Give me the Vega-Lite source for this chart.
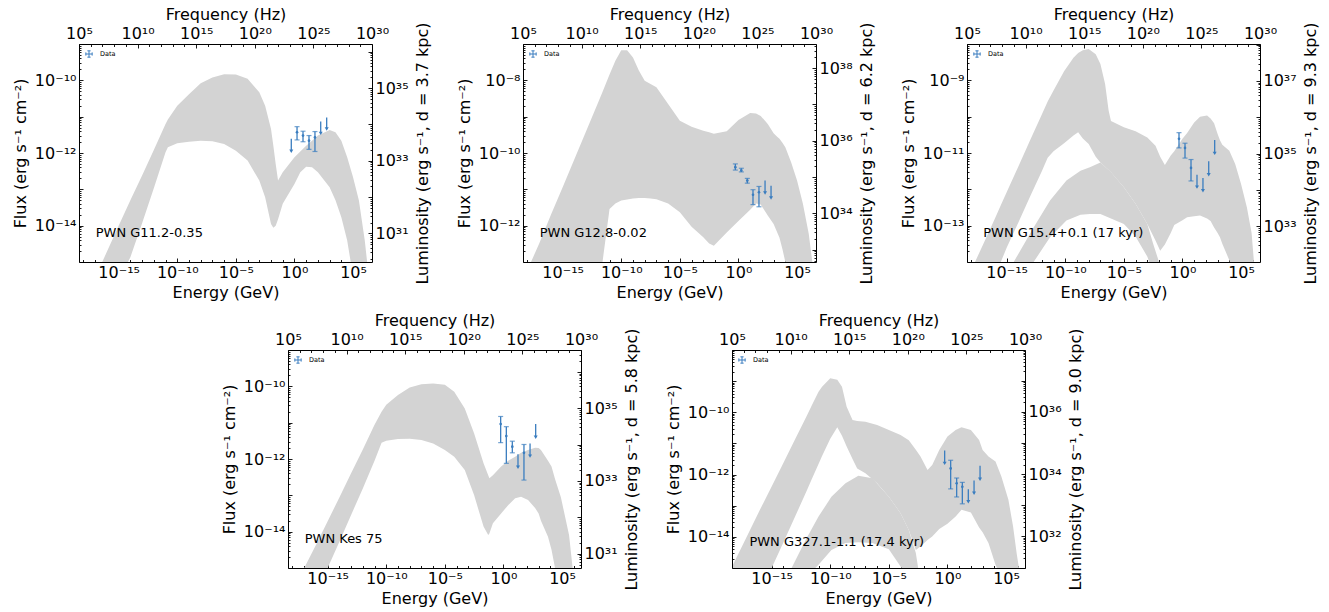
{
"$schema": "https://vega.github.io/schema/vega-lite/v6.json",
"padding": {"left": 12, "top": 6, "right": 2, "bottom": 2},
"config": {
  "font": "DejaVu Sans",
  "view": {"stroke": null},
  "axis": {"labelFont": "DejaVu Sans", "labelFontSize": 16, "titleFont": "DejaVu Sans", "titleFontSize": 16, "titleFontWeight": "normal", "labelColor": "black", "titleColor": "black", "domainColor": "black", "domainWidth": 1, "tickColor": "black", "tickSize": -4, "tickWidth": 0.9, "grid": false, "labelFlush": false, "labelOverlap": false, "labelBound": false}
},
"datasets": {
  "band": [
    {"p":1,"part":"a","E":3.98e-17,"hi":1e-15,"lo":3.16e-16},
    {"p":1,"part":"a","E":1e-15,"hi":1e-14,"lo":3.16e-16},
    {"p":1,"part":"a","E":1e-14,"hi":5.01e-14,"lo":1.35e-15},
    {"p":1,"part":"a","E":1e-13,"hi":2.4e-13,"lo":1.17e-14},
    {"p":1,"part":"a","E":1e-12,"hi":1.2e-12,"lo":1.07e-13},
    {"p":1,"part":"a","E":1e-11,"hi":6.31e-12,"lo":1.05e-12},
    {"p":1,"part":"a","E":1.585e-11,"hi":8.32e-12,"lo":1.45e-12},
    {"p":1,"part":"a","E":1e-10,"hi":2.0e-11,"lo":1.86e-12},
    {"p":1,"part":"a","E":1e-9,"hi":4.17e-11,"lo":2.04e-12},
    {"p":1,"part":"a","E":1e-8,"hi":8.32e-11,"lo":2.19e-12},
    {"p":1,"part":"a","E":1e-7,"hi":1.2e-10,"lo":2.09e-12},
    {"p":1,"part":"a","E":1e-6,"hi":1.48e-10,"lo":1.78e-12},
    {"p":1,"part":"a","E":1e-5,"hi":1.45e-10,"lo":1.15e-12},
    {"p":1,"part":"a","E":1e-4,"hi":1.1e-10,"lo":6.17e-13},
    {"p":1,"part":"a","E":1e-3,"hi":4.68e-11,"lo":1.74e-13},
    {"p":1,"part":"a","E":3.16e-3,"hi":2.0e-11,"lo":6.03e-14},
    {"p":1,"part":"a","E":0.01,"hi":4.57e-12,"lo":1.12e-14},
    {"p":1,"part":"a","E":0.0158,"hi":1.58e-12,"lo":8.71e-15},
    {"p":1,"part":"a","E":0.0251,"hi":5.01e-13,"lo":1e-14},
    {"p":1,"part":"a","E":0.0398,"hi":1.74e-13,"lo":1.51e-14},
    {"p":1,"part":"a","E":0.1,"hi":2.95e-13,"lo":3.98e-14},
    {"p":1,"part":"a","E":1,"hi":7.59e-13,"lo":1.41e-13},
    {"p":1,"part":"a","E":3.16,"hi":1.1e-12,"lo":2.95e-13},
    {"p":1,"part":"a","E":10,"hi":1.58e-12,"lo":4.17e-13},
    {"p":1,"part":"a","E":31.6,"hi":2.19e-12,"lo":4.07e-13},
    {"p":1,"part":"a","E":100,"hi":3.02e-12,"lo":2.95e-13},
    {"p":1,"part":"a","E":1000,"hi":4.27e-12,"lo":1.15e-13},
    {"p":1,"part":"a","E":3162,"hi":3.72e-12,"lo":5.01e-14},
    {"p":1,"part":"a","E":1e4,"hi":2.19e-12,"lo":1.7e-14},
    {"p":1,"part":"a","E":31623,"hi":7.59e-13,"lo":3.89e-15},
    {"p":1,"part":"a","E":63096,"hi":3.55e-13,"lo":1e-15},
    {"p":1,"part":"a","E":1e5,"hi":2.14e-13,"lo":3.16e-16},
    {"p":1,"part":"a","E":316228,"hi":4.9e-14,"lo":3.16e-16},
    {"p":1,"part":"a","E":1e6,"hi":3.89e-15,"lo":3.16e-16},
    {"p":1,"part":"a","E":1.585e6,"hi":1e-15,"lo":3.16e-16},

    {"p":2,"part":"a","E":2.0e-18,"hi":1e-13,"lo":3.16e-14},
    {"p":2,"part":"a","E":1e-17,"hi":3.24e-13,"lo":3.16e-14},
    {"p":2,"part":"a","E":1e-16,"hi":2.0e-12,"lo":3.16e-14},
    {"p":2,"part":"a","E":1e-15,"hi":1.15e-11,"lo":3.16e-14},
    {"p":2,"part":"a","E":1e-14,"hi":6.76e-11,"lo":3.16e-14},
    {"p":2,"part":"a","E":1e-13,"hi":3.98e-10,"lo":3.16e-14},
    {"p":2,"part":"a","E":1e-12,"hi":2.34e-9,"lo":3.16e-14},
    {"p":2,"part":"a","E":2.51e-12,"hi":4.79e-9,"lo":1e-13},
    {"p":2,"part":"a","E":1e-11,"hi":1.45e-8,"lo":2.88e-12},
    {"p":2,"part":"a","E":3.16e-11,"hi":3.47e-8,"lo":4.07e-12},
    {"p":2,"part":"a","E":1e-10,"hi":6.76e-8,"lo":4.9e-12},
    {"p":2,"part":"a","E":3.16e-10,"hi":6.76e-8,"lo":5.25e-12},
    {"p":2,"part":"a","E":1e-9,"hi":4.27e-8,"lo":5.62e-12},
    {"p":2,"part":"a","E":3.16e-9,"hi":1.86e-8,"lo":5.75e-12},
    {"p":2,"part":"a","E":1e-8,"hi":9.77e-9,"lo":5.75e-12},
    {"p":2,"part":"a","E":3.16e-8,"hi":7.94e-9,"lo":5.62e-12},
    {"p":2,"part":"a","E":1e-7,"hi":6.46e-9,"lo":5.37e-12},
    {"p":2,"part":"a","E":1e-6,"hi":2.24e-9,"lo":4.07e-12},
    {"p":2,"part":"a","E":1e-5,"hi":7.76e-10,"lo":2.34e-12},
    {"p":2,"part":"a","E":1e-4,"hi":5.25e-10,"lo":9.33e-13},
    {"p":2,"part":"a","E":1e-3,"hi":4.07e-10,"lo":4.79e-13},
    {"p":2,"part":"a","E":3.16e-3,"hi":3.72e-10,"lo":3.24e-13},
    {"p":2,"part":"a","E":7.94e-3,"hi":3.39e-10,"lo":2.82e-13},
    {"p":2,"part":"a","E":0.1,"hi":3.98e-10,"lo":6.46e-13},
    {"p":2,"part":"a","E":1,"hi":8.13e-10,"lo":1.35e-12},
    {"p":2,"part":"a","E":10,"hi":1.26e-9,"lo":2.75e-12},
    {"p":2,"part":"a","E":31.6,"hi":1.23e-9,"lo":4.07e-12},
    {"p":2,"part":"a","E":79.4,"hi":1.05e-9,"lo":3.8e-12},
    {"p":2,"part":"a","E":316,"hi":6.31e-10,"lo":1.91e-12},
    {"p":2,"part":"a","E":1000,"hi":3.47e-10,"lo":1.12e-12},
    {"p":2,"part":"a","E":1995,"hi":2.82e-10,"lo":6.61e-13},
    {"p":2,"part":"a","E":3162,"hi":2.45e-10,"lo":4.68e-13},
    {"p":2,"part":"a","E":5623,"hi":1.91e-10,"lo":2.29e-13},
    {"p":2,"part":"a","E":1e4,"hi":1.45e-10,"lo":1e-13},
    {"p":2,"part":"a","E":31623,"hi":5.5e-11,"lo":3.16e-14},
    {"p":2,"part":"a","E":1e5,"hi":1.74e-11,"lo":3.16e-14},
    {"p":2,"part":"a","E":316228,"hi":3.98e-12,"lo":3.16e-14},
    {"p":2,"part":"a","E":1e6,"hi":5.89e-13,"lo":3.16e-14},
    {"p":2,"part":"a","E":2.0e6,"hi":1e-13,"lo":3.16e-14},

    {"p":3,"part":"a","E":2.0e-18,"hi":1e-14,"lo":3.16e-15},
    {"p":3,"part":"a","E":1e-17,"hi":3.09e-14,"lo":3.16e-15},
    {"p":3,"part":"a","E":1e-16,"hi":1.58e-13,"lo":3.16e-15},
    {"p":3,"part":"a","E":3.16e-16,"hi":3.63e-13,"lo":1e-14},
    {"p":3,"part":"a","E":1e-15,"hi":8.32e-13,"lo":2.45e-14},
    {"p":3,"part":"a","E":1e-14,"hi":4.27e-12,"lo":1.23e-13},
    {"p":3,"part":"a","E":1e-13,"hi":2.24e-11,"lo":6.31e-13},
    {"p":3,"part":"a","E":1e-12,"hi":1.15e-10,"lo":3.16e-12},
    {"p":3,"part":"a","E":3.16e-12,"hi":2.63e-10,"lo":7.41e-12},
    {"p":3,"part":"a","E":1e-11,"hi":5.25e-10,"lo":1.12e-11},
    {"p":3,"part":"a","E":7.94e-11,"hi":1.78e-9,"lo":1.86e-11},
    {"p":3,"part":"a","E":5.01e-10,"hi":4.17e-9,"lo":3.02e-11},
    {"p":3,"part":"a","E":1.26e-9,"hi":5.62e-9,"lo":3.72e-11},
    {"p":3,"part":"a","E":3.16e-9,"hi":6.76e-9,"lo":2.51e-11},
    {"p":3,"part":"a","E":1e-8,"hi":7.24e-9,"lo":1.78e-11},
    {"p":3,"part":"a","E":3.98e-8,"hi":5.25e-9,"lo":7.94e-12},
    {"p":3,"part":"a","E":1e-7,"hi":2.82e-9,"lo":5.5e-12},
    {"p":3,"part":"a","E":2.51e-7,"hi":7.94e-10,"lo":4.17e-12},
    {"p":3,"part":"a","E":5.01e-7,"hi":1.48e-10,"lo":3.39e-12},
    {"p":3,"part":"a","E":7.94e-7,"hi":7.59e-11,"lo":2.95e-12},
    {"p":3,"part":"a","E":1e-5,"hi":5.13e-11,"lo":1.15e-12},
    {"p":3,"part":"a","E":1e-4,"hi":3.98e-11,"lo":3.98e-13},
    {"p":3,"part":"a","E":1e-3,"hi":2.69e-11,"lo":1.12e-13},
    {"p":3,"part":"a","E":5.01e-3,"hi":1.58e-11,"lo":3.89e-14},
    {"p":3,"part":"a","E":0.0126,"hi":7.94e-12,"lo":2.04e-14},
    {"p":3,"part":"a","E":0.0316,"hi":4.68e-12,"lo":3.02e-14},
    {"p":3,"part":"a","E":0.1,"hi":8.51e-12,"lo":6.31e-14},
    {"p":3,"part":"a","E":0.2,"hi":1.12e-11,"lo":1.05e-13},
    {"p":3,"part":"a","E":1,"hi":2.45e-11,"lo":1.41e-13},
    {"p":3,"part":"a","E":2.51,"hi":3.55e-11,"lo":1.7e-13},
    {"p":3,"part":"a","E":10,"hi":6.92e-11,"lo":1.82e-13},
    {"p":3,"part":"a","E":31.6,"hi":1e-10,"lo":1.91e-13},
    {"p":3,"part":"a","E":126,"hi":1.07e-10,"lo":1.58e-13},
    {"p":3,"part":"a","E":251,"hi":8.91e-11,"lo":1.35e-13},
    {"p":3,"part":"a","E":501,"hi":6.61e-11,"lo":8.91e-14},
    {"p":3,"part":"a","E":1000,"hi":3.31e-11,"lo":6.31e-14},
    {"p":3,"part":"a","E":1585,"hi":2.24e-11,"lo":4.79e-14},
    {"p":3,"part":"a","E":2512,"hi":1.7e-11,"lo":3.16e-14},
    {"p":3,"part":"a","E":1e4,"hi":1.15e-11,"lo":1.12e-14},
    {"p":3,"part":"a","E":31623,"hi":5.01e-12,"lo":3.16e-15},
    {"p":3,"part":"a","E":1e5,"hi":1.41e-12,"lo":3.16e-15},
    {"p":3,"part":"a","E":316228,"hi":3.16e-13,"lo":3.16e-15},
    {"p":3,"part":"a","E":7.94e5,"hi":6.31e-14,"lo":3.16e-15},
    {"p":3,"part":"a","E":1.26e6,"hi":1e-14,"lo":3.16e-15},
    {"p":3,"part":"b","E":3.98e-15,"hi":1e-14,"lo":7.94e-15},
    {"p":3,"part":"b","E":3.16e-14,"hi":3.16e-14,"lo":5.01e-15},
    {"p":3,"part":"b","E":2.0e-13,"hi":8.91e-14,"lo":1e-14},
    {"p":3,"part":"b","E":5.01e-12,"hi":4.9e-13,"lo":4.79e-14},
    {"p":3,"part":"b","E":1.26e-10,"hi":1.74e-12,"lo":1.38e-13},
    {"p":3,"part":"b","E":2.0e-9,"hi":3.24e-12,"lo":2.0e-13},
    {"p":3,"part":"b","E":1.26e-8,"hi":4.07e-12,"lo":2.09e-13},
    {"p":3,"part":"b","E":1e-7,"hi":5.5e-12,"lo":2.09e-13},
    {"p":3,"part":"b","E":7.94e-7,"hi":3.0e-12,"lo":1.58e-13},
    {"p":3,"part":"b","E":1e-5,"hi":1.15e-12,"lo":1.12e-13},
    {"p":3,"part":"b","E":1e-4,"hi":3.98e-13,"lo":5.01e-14},
    {"p":3,"part":"b","E":1e-3,"hi":1.12e-13,"lo":1.41e-14},
    {"p":3,"part":"b","E":3.16e-3,"hi":3.16e-14,"lo":5.01e-15},
    {"p":3,"part":"b","E":0.01,"hi":1e-14,"lo":5.01e-15},

    {"p":4,"part":"a","E":1e-17,"hi":1e-15,"lo":3.16e-16},
    {"p":4,"part":"a","E":1e-16,"hi":4.27e-15,"lo":3.16e-16},
    {"p":4,"part":"a","E":1e-15,"hi":1.95e-14,"lo":1e-15},
    {"p":4,"part":"a","E":1e-14,"hi":8.71e-14,"lo":5.25e-15},
    {"p":4,"part":"a","E":1e-13,"hi":4.07e-13,"lo":2.88e-14},
    {"p":4,"part":"a","E":1e-12,"hi":1.82e-12,"lo":1.55e-13},
    {"p":4,"part":"a","E":1e-11,"hi":8.71e-12,"lo":8.91e-13},
    {"p":4,"part":"a","E":3.98e-11,"hi":2.0e-11,"lo":2.82e-12},
    {"p":4,"part":"a","E":1e-10,"hi":3.09e-11,"lo":3.16e-12},
    {"p":4,"part":"a","E":1e-9,"hi":5.75e-11,"lo":3.55e-12},
    {"p":4,"part":"a","E":1e-8,"hi":9.33e-11,"lo":3.63e-12},
    {"p":4,"part":"a","E":1e-7,"hi":1.15e-10,"lo":3.31e-12},
    {"p":4,"part":"a","E":1e-6,"hi":1.2e-10,"lo":2.69e-12},
    {"p":4,"part":"a","E":1e-5,"hi":1.1e-10,"lo":1.78e-12},
    {"p":4,"part":"a","E":6.31e-5,"hi":7.08e-11,"lo":1.15e-12},
    {"p":4,"part":"a","E":5.01e-4,"hi":2.45e-11,"lo":5.01e-13},
    {"p":4,"part":"a","E":3.16e-3,"hi":5.01e-12,"lo":1e-13},
    {"p":4,"part":"a","E":0.02,"hi":7.59e-13,"lo":1.38e-14},
    {"p":4,"part":"a","E":0.0501,"hi":3.55e-13,"lo":8.13e-15},
    {"p":4,"part":"a","E":0.0631,"hi":2.95e-13,"lo":8.91e-15},
    {"p":4,"part":"a","E":0.126,"hi":3.55e-13,"lo":1.7e-14},
    {"p":4,"part":"a","E":0.631,"hi":6.17e-13,"lo":3.16e-14},
    {"p":4,"part":"a","E":2.51,"hi":8.91e-13,"lo":5.37e-14},
    {"p":4,"part":"a","E":10,"hi":1.15e-12,"lo":8.32e-14},
    {"p":4,"part":"a","E":31.6,"hi":1.48e-12,"lo":9.12e-14},
    {"p":4,"part":"a","E":126,"hi":1.78e-12,"lo":7.41e-14},
    {"p":4,"part":"a","E":501,"hi":2.04e-12,"lo":4.47e-14},
    {"p":4,"part":"a","E":1000,"hi":2.0e-12,"lo":3.16e-14},
    {"p":4,"part":"a","E":1585,"hi":1.78e-12,"lo":2.0e-14},
    {"p":4,"part":"a","E":6310,"hi":8.91e-13,"lo":7.24e-15},
    {"p":4,"part":"a","E":12589,"hi":6.17e-13,"lo":3.16e-15},
    {"p":4,"part":"a","E":25119,"hi":2.82e-13,"lo":1e-15},
    {"p":4,"part":"a","E":79433,"hi":8.91e-14,"lo":3.16e-16},
    {"p":4,"part":"a","E":398107,"hi":7.94e-15,"lo":3.16e-16},
    {"p":4,"part":"a","E":794328,"hi":1e-15,"lo":3.16e-16},

    {"p":5,"part":"a","E":5.01e-19,"hi":1.26e-15,"lo":5.01e-16},
    {"p":5,"part":"a","E":1e-17,"hi":1.26e-14,"lo":5.01e-16},
    {"p":5,"part":"a","E":1e-16,"hi":7.41e-14,"lo":5.01e-16},
    {"p":5,"part":"a","E":1e-15,"hi":4.17e-13,"lo":1e-15},
    {"p":5,"part":"a","E":1e-14,"hi":2.34e-12,"lo":6.61e-15},
    {"p":5,"part":"a","E":1e-13,"hi":1.35e-11,"lo":4.47e-14},
    {"p":5,"part":"a","E":1e-12,"hi":7.76e-11,"lo":3.09e-13},
    {"p":5,"part":"a","E":2.51e-12,"hi":1.58e-10,"lo":6.76e-13},
    {"p":5,"part":"a","E":1e-11,"hi":4.57e-10,"lo":2.19e-12},
    {"p":5,"part":"a","E":2.0e-11,"hi":6.61e-10,"lo":3.98e-12},
    {"p":5,"part":"a","E":1e-10,"hi":1.23e-9,"lo":1.41e-11},
    {"p":5,"part":"a","E":3.98e-10,"hi":1.1e-9,"lo":3.31e-11},
    {"p":5,"part":"a","E":1e-9,"hi":6.61e-10,"lo":1.78e-11},
    {"p":5,"part":"a","E":2.51e-9,"hi":1.51e-10,"lo":7.94e-12},
    {"p":5,"part":"a","E":7.94e-9,"hi":5.62e-11,"lo":3.16e-12},
    {"p":5,"part":"a","E":2.0e-8,"hi":5.25e-11,"lo":1.58e-12},
    {"p":5,"part":"a","E":1e-7,"hi":5.01e-11,"lo":1.1e-12},
    {"p":5,"part":"a","E":1e-6,"hi":3.89e-11,"lo":5.25e-13},
    {"p":5,"part":"a","E":1e-5,"hi":2.69e-11,"lo":1.95e-13},
    {"p":5,"part":"a","E":1e-4,"hi":1.86e-11,"lo":5.75e-14},
    {"p":5,"part":"a","E":5.01e-4,"hi":1.26e-11,"lo":1.66e-14},
    {"p":5,"part":"a","E":2.0e-3,"hi":6.31e-12,"lo":3.8e-15},
    {"p":5,"part":"a","E":5.01e-3,"hi":3.8e-12,"lo":4.9e-15},
    {"p":5,"part":"a","E":0.02,"hi":1.41e-12,"lo":7.94e-15},
    {"p":5,"part":"a","E":0.0501,"hi":2.04e-12,"lo":1.02e-14},
    {"p":5,"part":"a","E":0.2,"hi":6.17e-12,"lo":1.78e-14},
    {"p":5,"part":"a","E":1,"hi":1.66e-11,"lo":2.63e-14},
    {"p":5,"part":"a","E":5.01,"hi":2.69e-11,"lo":4.47e-14},
    {"p":5,"part":"a","E":15.8,"hi":3.31e-11,"lo":7.41e-14},
    {"p":5,"part":"a","E":100,"hi":2.69e-11,"lo":6.03e-14},
    {"p":5,"part":"a","E":501,"hi":1.29e-11,"lo":2.0e-14},
    {"p":5,"part":"a","E":1000,"hi":6.17e-12,"lo":1.41e-14},
    {"p":5,"part":"a","E":3162,"hi":3.8e-12,"lo":6.31e-15},
    {"p":5,"part":"a","E":12589,"hi":2.63e-12,"lo":1.26e-15},
    {"p":5,"part":"a","E":39811,"hi":8.71e-13,"lo":5.01e-16},
    {"p":5,"part":"a","E":158489,"hi":1.55e-13,"lo":5.01e-16},
    {"p":5,"part":"a","E":398107,"hi":2.14e-14,"lo":5.01e-16},
    {"p":5,"part":"a","E":794328,"hi":3.02e-15,"lo":5.01e-16},
    {"p":5,"part":"a","E":1.26e6,"hi":1e-15,"lo":5.01e-16},
    {"p":5,"part":"b","E":5.01e-14,"hi":1e-15,"lo":7.94e-16},
    {"p":5,"part":"b","E":7.94e-13,"hi":7.94e-15,"lo":5.01e-16},
    {"p":5,"part":"b","E":1e-11,"hi":4.47e-14,"lo":1.26e-15},
    {"p":5,"part":"b","E":1.26e-10,"hi":1.95e-13,"lo":3.8e-15},
    {"p":5,"part":"b","E":2.0e-9,"hi":5.25e-13,"lo":6.31e-15},
    {"p":5,"part":"b","E":2.51e-8,"hi":9.12e-13,"lo":6.76e-15},
    {"p":5,"part":"b","E":3.98e-7,"hi":7.59e-13,"lo":6.31e-15},
    {"p":5,"part":"b","E":1e-5,"hi":1.95e-13,"lo":3.98e-15},
    {"p":5,"part":"b","E":1e-4,"hi":5.75e-14,"lo":1.12e-15},
    {"p":5,"part":"b","E":5.01e-4,"hi":1.66e-14,"lo":5.01e-16},
    {"p":5,"part":"b","E":2.0e-3,"hi":3.02e-15,"lo":5.01e-16},
    {"p":5,"part":"b","E":3.16e-3,"hi":1e-15,"lo":5.01e-16}
  ],
  "pts": [
    {"p":1,"E":1.66,"F":3.72e-12,"lo":2.29e-12,"hi":5.31e-12},
    {"p":1,"E":5.37,"F":3.02e-12,"lo":2.04e-12,"hi":3.98e-12},
    {"p":1,"E":17.4,"F":2.19e-12,"lo":1.26e-12,"hi":3.02e-12},
    {"p":1,"E":56.2,"F":2.69e-12,"lo":1.1e-12,"hi":3.89e-12},
    {"p":2,"E":0.542,"F":4.07e-11,"lo":3.39e-11,"hi":5.01e-11},
    {"p":2,"E":1.76,"F":3.31e-11,"lo":3.02e-11,"hi":3.8e-11},
    {"p":2,"E":5.71,"F":1.74e-11,"lo":1.48e-11,"hi":2.0e-11},
    {"p":2,"E":17.4,"F":7.08e-12,"lo":3.8e-12,"hi":9.77e-12},
    {"p":2,"E":56.2,"F":8.32e-12,"lo":3.31e-12,"hi":1.2e-11},
    {"p":3,"E":0.507,"F":2.45e-11,"lo":1.38e-11,"hi":3.63e-11},
    {"p":3,"E":1.65,"F":1.38e-11,"lo":7.24e-12,"hi":1.86e-11},
    {"p":3,"E":5.37,"F":3.89e-12,"lo":1.7e-12,"hi":6.61e-12},
    {"p":4,"E":0.578,"F":9.12e-12,"lo":2.82e-12,"hi":1.48e-11},
    {"p":4,"E":1.76,"F":4.27e-12,"lo":7.59e-13,"hi":7.76e-12},
    {"p":4,"E":5.71,"F":2.19e-12,"lo":1.48e-12,"hi":3.09e-12},
    {"p":4,"E":56.2,"F":1.48e-12,"lo":2.63e-13,"hi":2.51e-12},
    {"p":5,"E":1.88,"F":1.58e-12,"lo":3.47e-13,"hi":2.88e-12},
    {"p":5,"E":6.11,"F":5.25e-13,"lo":1.91e-13,"hi":7.76e-13},
    {"p":5,"E":18.6,"F":4.07e-13,"lo":1.15e-13,"hi":5.62e-13}
  ],
  "ul": [
    {"p":1,"E":0.537,"F":2.45e-12,"end":1.12e-12},
    {"p":1,"E":174,"F":7.41e-12,"end":3.47e-12},
    {"p":1,"E":562,"F":9.55e-12,"end":4.57e-12},
    {"p":2,"E":186,"F":1.74e-11,"end":7.94e-12},
    {"p":2,"E":603,"F":1.26e-11,"end":5.75e-12},
    {"p":3,"E":17.4,"F":2.51e-12,"end":1.15e-12},
    {"p":3,"E":56.2,"F":2.04e-12,"end":9.12e-13},
    {"p":3,"E":174,"F":5.89e-12,"end":2.51e-12},
    {"p":3,"E":562,"F":2.29e-11,"end":9.77e-12},
    {"p":4,"E":17.4,"F":1.35e-12,"end":5.89e-13},
    {"p":4,"E":186,"F":2.69e-12,"end":1.2e-12},
    {"p":4,"E":562,"F":9.12e-12,"end":3.98e-12},
    {"p":5,"E":0.578,"F":5.89e-12,"end":2.29e-12},
    {"p":5,"E":60.3,"F":3.39e-13,"end":1.35e-13},
    {"p":5,"E":186,"F":6.46e-13,"end":2.51e-13},
    {"p":5,"E":603,"F":1.91e-12,"end":7.08e-13}
  ],
  "ann": [
    {"p":1,"E":1.1e-17,"F":6.2e-15,"t":"PWN G11.2-0.35"},
    {"p":2,"E":1.1e-17,"F":6.17e-13,"t":"PWN G12.8-0.02"},
    {"p":3,"E":1.0e-17,"F":6.17e-14,"t":"PWN G15.4+0.1 (17 kyr)"},
    {"p":4,"E":1.1e-17,"F":6.2e-15,"t":"PWN Kes 75"},
    {"p":5,"E":1.26e-17,"F":6.6e-15,"t":"PWN G327.1-1.1 (17.4 kyr)"}
  ],
  "sec": [
    {"p":1,"nu":1e5,"L":1.638e30},{"p":1,"nu":1e30,"L":1.638e36},
    {"p":2,"nu":1e5,"L":4.599e32},{"p":2,"nu":1e30,"L":4.599e38},
    {"p":3,"nu":1e5,"L":1.035e32},{"p":3,"nu":1e30,"L":1.035e38},
    {"p":4,"nu":1e5,"L":4.025e30},{"p":4,"nu":1e30,"L":4.025e36},
    {"p":5,"nu":1e5,"L":9.692e30},{"p":5,"nu":1e30,"L":9.692e37}
  ]
},
"vconcat": [
 {"hconcat": [
  {"width":293,"height":218,
   "layer":[
    {"encoding":{"x":{"field":"E","type":"quantitative","scale":{"type":"log","domain":[4.136e-19,4.136e6],"nice":false},"axis":{"orient":"bottom","title":"Energy (GeV)","values":[1e-18,1e-17,1e-16,1e-15,1e-14,1e-13,1e-12,1e-11,1e-10,1e-9,1e-8,1e-7,1e-6,1e-5,1e-4,1e-3,1e-2,1e-1,1,10,100,1000,1e4,1e5,1e6],"labelExpr":"datum.value==1e-15?'10⁻¹⁵':datum.value==1e-10?'10⁻¹⁰':datum.value==1e-5?'10⁻⁵':datum.value==1?'10⁰':datum.value==1e5?'10⁵':''","tickSize":{"condition":{"test":"abs(log(datum.value)/LN10/5-round(log(datum.value)/LN10/5))<0.002","value":-4},"value":-2.5},"labelPadding":6,"titlePadding":3}}},
     "layer":[
      {"data":{"name":"band"},"transform":[{"filter":"datum.p==1"}],"mark":{"type":"area","color":"#d3d3d3","clip":true},
       "encoding":{"y":{"field":"hi","type":"quantitative","scale":{"type":"log","domain":[1e-15,1e-9],"nice":false},"axis":{"orient":"left","title":"Flux (erg s⁻¹ cm⁻²)","values":[1e-15,2e-15,3e-15,4e-15,5e-15,6e-15,7e-15,8e-15,9e-15,1e-14,2e-14,3e-14,4e-14,5e-14,6e-14,7e-14,8e-14,9e-14,1e-13,2e-13,3e-13,4e-13,5e-13,6e-13,7e-13,8e-13,9e-13,1e-12,2e-12,3e-12,4e-12,5e-12,6e-12,7e-12,8e-12,9e-12,1e-11,2e-11,3e-11,4e-11,5e-11,6e-11,7e-11,8e-11,9e-11,1e-10,2e-10,3e-10,4e-10,5e-10,6e-10,7e-10,8e-10,9e-10,1e-9],"labelExpr":"datum.value==1e-10?'10⁻¹⁰':datum.value==1e-12?'10⁻¹²':datum.value==1e-14?'10⁻¹⁴':''","tickSize":{"condition":{"test":"abs(log(datum.value)/LN10-round(log(datum.value)/LN10))<0.01","value":-4},"value":-2},"labelPadding":7,"titlePadding":6}},"y2":{"field":"lo"},"detail":{"field":"part"}}},
      {"data":{"name":"pts"},"transform":[{"filter":"datum.p==1"}],"mark":{"type":"rule","strokeWidth":1.3,"clip":true},
       "encoding":{"y":{"field":"lo","type":"quantitative","scale":{"type":"log","domain":[1e-15,1e-9],"nice":false}},"y2":{"field":"hi"},"color":{"datum":"Data","type":"nominal","scale":{"domain":["Data"],"range":["#3a7dbf"]},"legend":{"orient":"top-left","title":null,"offset":4,"padding":2,"labelFontSize":6.5,"labelFont":"DejaVu Sans","labelColor":"black","symbolType":"M-1,0H1M0,-1V1M-1,-0.5V0.5M1,-0.5V0.5M-0.5,-1H0.5M-0.5,1H0.5","symbolSize":40,"symbolStrokeWidth":1,"symbolStrokeColor":"#3a7dbf","symbolFillColor":"transparent","labelOffset":7}}}},
      {"data":{"name":"pts"},"transform":[{"filter":"datum.p==1"}],"mark":{"type":"tick","orient":"horizontal","size":5,"thickness":1.2,"color":"#3a7dbf","clip":true},
       "encoding":{"y":{"field":"lo","type":"quantitative","scale":{"type":"log","domain":[1e-15,1e-9],"nice":false}}}},
      {"data":{"name":"pts"},"transform":[{"filter":"datum.p==1"}],"mark":{"type":"tick","orient":"horizontal","size":5,"thickness":1.2,"color":"#3a7dbf","clip":true},
       "encoding":{"y":{"field":"hi","type":"quantitative","scale":{"type":"log","domain":[1e-15,1e-9],"nice":false}}}},
      {"data":{"name":"pts"},"transform":[{"filter":"datum.p==1"}],"mark":{"type":"point","filled":true,"size":7,"opacity":1,"color":"#3a7dbf","clip":true},
       "encoding":{"y":{"field":"F","type":"quantitative","scale":{"type":"log","domain":[1e-15,1e-9],"nice":false}}}},
      {"data":{"name":"ul"},"transform":[{"filter":"datum.p==1"}],"mark":{"type":"rule","strokeWidth":1.3,"color":"#3a7dbf","clip":true},
       "encoding":{"y":{"field":"F","type":"quantitative","scale":{"type":"log","domain":[1e-15,1e-9],"nice":false}},"y2":{"field":"end"}}},
      {"data":{"name":"ul"},"transform":[{"filter":"datum.p==1"}],"mark":{"type":"point","shape":"triangle-down","filled":true,"size":16,"opacity":1,"color":"#3a7dbf","clip":true},
       "encoding":{"y":{"field":"end","type":"quantitative","scale":{"type":"log","domain":[1e-15,1e-9],"nice":false}}}},
      {"data":{"name":"ann"},"transform":[{"filter":"datum.p==1"}],"mark":{"type":"text","align":"left","baseline":"middle","fontSize":13,"font":"DejaVu Sans","color":"black"},
       "encoding":{"y":{"field":"F","type":"quantitative","scale":{"type":"log","domain":[1e-15,1e-9],"nice":false}},"text":{"field":"t"}}}
     ]},
    {"data":{"name":"sec"},"transform":[{"filter":"datum.p==1"}],"mark":{"type":"point","opacity":0},
     "encoding":{"x":{"field":"nu","type":"quantitative","scale":{"type":"log","domain":[1e5,1e30],"nice":false},"axis":{"orient":"top","title":"Frequency (Hz)","values":[1e5,1e6,1e7,1e8,1e9,1e10,1e11,1e12,1e13,1e14,1e15,1e16,1e17,1e18,1e19,1e20,1e21,1e22,1e23,1e24,1e25,1e26,1e27,1e28,1e29,1e30],"labelExpr":"datum.value==1e5?'10⁵':datum.value==1e10?'10¹⁰':datum.value==1e15?'10¹⁵':datum.value==1e20?'10²⁰':datum.value==1e25?'10²⁵':datum.value==1e30?'10³⁰':''","tickSize":{"condition":{"test":"abs(log(datum.value)/LN10/5-round(log(datum.value)/LN10/5))<0.002","value":-4},"value":-2.5},"labelPadding":7,"titlePadding":1}},
                 "y":{"field":"L","type":"quantitative","scale":{"type":"log","domain":[1.638e30,1.638e36],"nice":false},"axis":{"orient":"right","title":"Luminosity (erg s⁻¹, d = 3.7 kpc)","values":[2e30,3e30,4e30,5e30,6e30,7e30,8e30,9e30,1e31,2e31,3e31,4e31,5e31,6e31,7e31,8e31,9e31,1e32,2e32,3e32,4e32,5e32,6e32,7e32,8e32,9e32,1e33,2e33,3e33,4e33,5e33,6e33,7e33,8e33,9e33,1e34,2e34,3e34,4e34,5e34,6e34,7e34,8e34,9e34,1e35,2e35,3e35,4e35,5e35,6e35,7e35,8e35,9e35,1e36],"labelExpr":"datum.value==1e31?'10³¹':datum.value==1e33?'10³³':datum.value==1e35?'10³⁵':''","tickSize":{"condition":{"test":"abs(log(datum.value)/LN10-round(log(datum.value)/LN10))<0.01","value":-4},"value":-2},"labelPadding":7,"titlePadding":6,"titleAngle":270,"titleBaseline":"top"}}}}
   ],
   "resolve":{"scale":{"x":"independent","y":"independent"}}},

  {"width":293,"height":218,
   "layer":[
    {"encoding":{"x":{"field":"E","type":"quantitative","scale":{"type":"log","domain":[4.136e-19,4.136e6],"nice":false},"axis":{"orient":"bottom","title":"Energy (GeV)","values":[1e-18,1e-17,1e-16,1e-15,1e-14,1e-13,1e-12,1e-11,1e-10,1e-9,1e-8,1e-7,1e-6,1e-5,1e-4,1e-3,1e-2,1e-1,1,10,100,1000,1e4,1e5,1e6],"labelExpr":"datum.value==1e-15?'10⁻¹⁵':datum.value==1e-10?'10⁻¹⁰':datum.value==1e-5?'10⁻⁵':datum.value==1?'10⁰':datum.value==1e5?'10⁵':''","tickSize":{"condition":{"test":"abs(log(datum.value)/LN10/5-round(log(datum.value)/LN10/5))<0.002","value":-4},"value":-2.5},"labelPadding":6,"titlePadding":3}}},
     "layer":[
      {"data":{"name":"band"},"transform":[{"filter":"datum.p==2"}],"mark":{"type":"area","color":"#d3d3d3","clip":true},
       "encoding":{"y":{"field":"hi","type":"quantitative","scale":{"type":"log","domain":[1e-13,1e-7],"nice":false},"axis":{"orient":"left","title":"Flux (erg s⁻¹ cm⁻²)","values":[1e-13,2e-13,3e-13,4e-13,5e-13,6e-13,7e-13,8e-13,9e-13,1e-12,2e-12,3e-12,4e-12,5e-12,6e-12,7e-12,8e-12,9e-12,1e-11,2e-11,3e-11,4e-11,5e-11,6e-11,7e-11,8e-11,9e-11,1e-10,2e-10,3e-10,4e-10,5e-10,6e-10,7e-10,8e-10,9e-10,1e-9,2e-9,3e-9,4e-9,5e-9,6e-9,7e-9,8e-9,9e-9,1e-8,2e-8,3e-8,4e-8,5e-8,6e-8,7e-8,8e-8,9e-8,1e-7],"labelExpr":"datum.value==1e-8?'10⁻⁸':datum.value==1e-10?'10⁻¹⁰':datum.value==1e-12?'10⁻¹²':''","tickSize":{"condition":{"test":"abs(log(datum.value)/LN10-round(log(datum.value)/LN10))<0.01","value":-4},"value":-2},"labelPadding":7,"titlePadding":6}},"y2":{"field":"lo"},"detail":{"field":"part"}}},
      {"data":{"name":"pts"},"transform":[{"filter":"datum.p==2"}],"mark":{"type":"rule","strokeWidth":1.3,"clip":true},
       "encoding":{"y":{"field":"lo","type":"quantitative","scale":{"type":"log","domain":[1e-13,1e-7],"nice":false}},"y2":{"field":"hi"},"color":{"datum":"Data","type":"nominal","scale":{"domain":["Data"],"range":["#3a7dbf"]},"legend":{"orient":"top-left","title":null,"offset":4,"padding":2,"labelFontSize":6.5,"labelFont":"DejaVu Sans","labelColor":"black","symbolType":"M-1,0H1M0,-1V1M-1,-0.5V0.5M1,-0.5V0.5M-0.5,-1H0.5M-0.5,1H0.5","symbolSize":40,"symbolStrokeWidth":1,"symbolStrokeColor":"#3a7dbf","symbolFillColor":"transparent","labelOffset":7}}}},
      {"data":{"name":"pts"},"transform":[{"filter":"datum.p==2"}],"mark":{"type":"tick","orient":"horizontal","size":5,"thickness":1.2,"color":"#3a7dbf","clip":true},
       "encoding":{"y":{"field":"lo","type":"quantitative","scale":{"type":"log","domain":[1e-13,1e-7],"nice":false}}}},
      {"data":{"name":"pts"},"transform":[{"filter":"datum.p==2"}],"mark":{"type":"tick","orient":"horizontal","size":5,"thickness":1.2,"color":"#3a7dbf","clip":true},
       "encoding":{"y":{"field":"hi","type":"quantitative","scale":{"type":"log","domain":[1e-13,1e-7],"nice":false}}}},
      {"data":{"name":"pts"},"transform":[{"filter":"datum.p==2"}],"mark":{"type":"point","filled":true,"size":7,"opacity":1,"color":"#3a7dbf","clip":true},
       "encoding":{"y":{"field":"F","type":"quantitative","scale":{"type":"log","domain":[1e-13,1e-7],"nice":false}}}},
      {"data":{"name":"ul"},"transform":[{"filter":"datum.p==2"}],"mark":{"type":"rule","strokeWidth":1.3,"color":"#3a7dbf","clip":true},
       "encoding":{"y":{"field":"F","type":"quantitative","scale":{"type":"log","domain":[1e-13,1e-7],"nice":false}},"y2":{"field":"end"}}},
      {"data":{"name":"ul"},"transform":[{"filter":"datum.p==2"}],"mark":{"type":"point","shape":"triangle-down","filled":true,"size":16,"opacity":1,"color":"#3a7dbf","clip":true},
       "encoding":{"y":{"field":"end","type":"quantitative","scale":{"type":"log","domain":[1e-13,1e-7],"nice":false}}}},
      {"data":{"name":"ann"},"transform":[{"filter":"datum.p==2"}],"mark":{"type":"text","align":"left","baseline":"middle","fontSize":13,"font":"DejaVu Sans","color":"black"},
       "encoding":{"y":{"field":"F","type":"quantitative","scale":{"type":"log","domain":[1e-13,1e-7],"nice":false}},"text":{"field":"t"}}}
     ]},
    {"data":{"name":"sec"},"transform":[{"filter":"datum.p==2"}],"mark":{"type":"point","opacity":0},
     "encoding":{"x":{"field":"nu","type":"quantitative","scale":{"type":"log","domain":[1e5,1e30],"nice":false},"axis":{"orient":"top","title":"Frequency (Hz)","values":[1e5,1e6,1e7,1e8,1e9,1e10,1e11,1e12,1e13,1e14,1e15,1e16,1e17,1e18,1e19,1e20,1e21,1e22,1e23,1e24,1e25,1e26,1e27,1e28,1e29,1e30],"labelExpr":"datum.value==1e5?'10⁵':datum.value==1e10?'10¹⁰':datum.value==1e15?'10¹⁵':datum.value==1e20?'10²⁰':datum.value==1e25?'10²⁵':datum.value==1e30?'10³⁰':''","tickSize":{"condition":{"test":"abs(log(datum.value)/LN10/5-round(log(datum.value)/LN10/5))<0.002","value":-4},"value":-2.5},"labelPadding":7,"titlePadding":1}},
                 "y":{"field":"L","type":"quantitative","scale":{"type":"log","domain":[4.599e32,4.599e38],"nice":false},"axis":{"orient":"right","title":"Luminosity (erg s⁻¹, d = 6.2 kpc)","values":[5e32,6e32,7e32,8e32,9e32,1e33,2e33,3e33,4e33,5e33,6e33,7e33,8e33,9e33,1e34,2e34,3e34,4e34,5e34,6e34,7e34,8e34,9e34,1e35,2e35,3e35,4e35,5e35,6e35,7e35,8e35,9e35,1e36,2e36,3e36,4e36,5e36,6e36,7e36,8e36,9e36,1e37,2e37,3e37,4e37,5e37,6e37,7e37,8e37,9e37,1e38,2e38,3e38,4e38],"labelExpr":"datum.value==1e34?'10³⁴':datum.value==1e36?'10³⁶':datum.value==1e38?'10³⁸':''","tickSize":{"condition":{"test":"abs(log(datum.value)/LN10-round(log(datum.value)/LN10))<0.01","value":-4},"value":-2},"labelPadding":7,"titlePadding":6,"titleAngle":270,"titleBaseline":"top"}}}}
   ],
   "resolve":{"scale":{"x":"independent","y":"independent"}}},

  {"width":293,"height":218,
   "layer":[
    {"encoding":{"x":{"field":"E","type":"quantitative","scale":{"type":"log","domain":[4.136e-19,4.136e6],"nice":false},"axis":{"orient":"bottom","title":"Energy (GeV)","values":[1e-18,1e-17,1e-16,1e-15,1e-14,1e-13,1e-12,1e-11,1e-10,1e-9,1e-8,1e-7,1e-6,1e-5,1e-4,1e-3,1e-2,1e-1,1,10,100,1000,1e4,1e5,1e6],"labelExpr":"datum.value==1e-15?'10⁻¹⁵':datum.value==1e-10?'10⁻¹⁰':datum.value==1e-5?'10⁻⁵':datum.value==1?'10⁰':datum.value==1e5?'10⁵':''","tickSize":{"condition":{"test":"abs(log(datum.value)/LN10/5-round(log(datum.value)/LN10/5))<0.002","value":-4},"value":-2.5},"labelPadding":6,"titlePadding":3}}},
     "layer":[
      {"data":{"name":"band"},"transform":[{"filter":"datum.p==3"}],"mark":{"type":"area","color":"#d3d3d3","clip":true},
       "encoding":{"y":{"field":"hi","type":"quantitative","scale":{"type":"log","domain":[1e-14,1e-8],"nice":false},"axis":{"orient":"left","title":"Flux (erg s⁻¹ cm⁻²)","values":[1e-14,2e-14,3e-14,4e-14,5e-14,6e-14,7e-14,8e-14,9e-14,1e-13,2e-13,3e-13,4e-13,5e-13,6e-13,7e-13,8e-13,9e-13,1e-12,2e-12,3e-12,4e-12,5e-12,6e-12,7e-12,8e-12,9e-12,1e-11,2e-11,3e-11,4e-11,5e-11,6e-11,7e-11,8e-11,9e-11,1e-10,2e-10,3e-10,4e-10,5e-10,6e-10,7e-10,8e-10,9e-10,1e-9,2e-9,3e-9,4e-9,5e-9,6e-9,7e-9,8e-9,9e-9,1e-8],"labelExpr":"datum.value==1e-9?'10⁻⁹':datum.value==1e-11?'10⁻¹¹':datum.value==1e-13?'10⁻¹³':''","tickSize":{"condition":{"test":"abs(log(datum.value)/LN10-round(log(datum.value)/LN10))<0.01","value":-4},"value":-2},"labelPadding":7,"titlePadding":6}},"y2":{"field":"lo"},"detail":{"field":"part"}}},
      {"data":{"name":"pts"},"transform":[{"filter":"datum.p==3"}],"mark":{"type":"rule","strokeWidth":1.3,"clip":true},
       "encoding":{"y":{"field":"lo","type":"quantitative","scale":{"type":"log","domain":[1e-14,1e-8],"nice":false}},"y2":{"field":"hi"},"color":{"datum":"Data","type":"nominal","scale":{"domain":["Data"],"range":["#3a7dbf"]},"legend":{"orient":"top-left","title":null,"offset":4,"padding":2,"labelFontSize":6.5,"labelFont":"DejaVu Sans","labelColor":"black","symbolType":"M-1,0H1M0,-1V1M-1,-0.5V0.5M1,-0.5V0.5M-0.5,-1H0.5M-0.5,1H0.5","symbolSize":40,"symbolStrokeWidth":1,"symbolStrokeColor":"#3a7dbf","symbolFillColor":"transparent","labelOffset":7}}}},
      {"data":{"name":"pts"},"transform":[{"filter":"datum.p==3"}],"mark":{"type":"tick","orient":"horizontal","size":5,"thickness":1.2,"color":"#3a7dbf","clip":true},
       "encoding":{"y":{"field":"lo","type":"quantitative","scale":{"type":"log","domain":[1e-14,1e-8],"nice":false}}}},
      {"data":{"name":"pts"},"transform":[{"filter":"datum.p==3"}],"mark":{"type":"tick","orient":"horizontal","size":5,"thickness":1.2,"color":"#3a7dbf","clip":true},
       "encoding":{"y":{"field":"hi","type":"quantitative","scale":{"type":"log","domain":[1e-14,1e-8],"nice":false}}}},
      {"data":{"name":"pts"},"transform":[{"filter":"datum.p==3"}],"mark":{"type":"point","filled":true,"size":7,"opacity":1,"color":"#3a7dbf","clip":true},
       "encoding":{"y":{"field":"F","type":"quantitative","scale":{"type":"log","domain":[1e-14,1e-8],"nice":false}}}},
      {"data":{"name":"ul"},"transform":[{"filter":"datum.p==3"}],"mark":{"type":"rule","strokeWidth":1.3,"color":"#3a7dbf","clip":true},
       "encoding":{"y":{"field":"F","type":"quantitative","scale":{"type":"log","domain":[1e-14,1e-8],"nice":false}},"y2":{"field":"end"}}},
      {"data":{"name":"ul"},"transform":[{"filter":"datum.p==3"}],"mark":{"type":"point","shape":"triangle-down","filled":true,"size":16,"opacity":1,"color":"#3a7dbf","clip":true},
       "encoding":{"y":{"field":"end","type":"quantitative","scale":{"type":"log","domain":[1e-14,1e-8],"nice":false}}}},
      {"data":{"name":"ann"},"transform":[{"filter":"datum.p==3"}],"mark":{"type":"text","align":"left","baseline":"middle","fontSize":13,"font":"DejaVu Sans","color":"black"},
       "encoding":{"y":{"field":"F","type":"quantitative","scale":{"type":"log","domain":[1e-14,1e-8],"nice":false}},"text":{"field":"t"}}}
     ]},
    {"data":{"name":"sec"},"transform":[{"filter":"datum.p==3"}],"mark":{"type":"point","opacity":0},
     "encoding":{"x":{"field":"nu","type":"quantitative","scale":{"type":"log","domain":[1e5,1e30],"nice":false},"axis":{"orient":"top","title":"Frequency (Hz)","values":[1e5,1e6,1e7,1e8,1e9,1e10,1e11,1e12,1e13,1e14,1e15,1e16,1e17,1e18,1e19,1e20,1e21,1e22,1e23,1e24,1e25,1e26,1e27,1e28,1e29,1e30],"labelExpr":"datum.value==1e5?'10⁵':datum.value==1e10?'10¹⁰':datum.value==1e15?'10¹⁵':datum.value==1e20?'10²⁰':datum.value==1e25?'10²⁵':datum.value==1e30?'10³⁰':''","tickSize":{"condition":{"test":"abs(log(datum.value)/LN10/5-round(log(datum.value)/LN10/5))<0.002","value":-4},"value":-2.5},"labelPadding":7,"titlePadding":1}},
                 "y":{"field":"L","type":"quantitative","scale":{"type":"log","domain":[1.035e32,1.035e38],"nice":false},"axis":{"orient":"right","title":"Luminosity (erg s⁻¹, d = 9.3 kpc)","values":[2e32,3e32,4e32,5e32,6e32,7e32,8e32,9e32,1e33,2e33,3e33,4e33,5e33,6e33,7e33,8e33,9e33,1e34,2e34,3e34,4e34,5e34,6e34,7e34,8e34,9e34,1e35,2e35,3e35,4e35,5e35,6e35,7e35,8e35,9e35,1e36,2e36,3e36,4e36,5e36,6e36,7e36,8e36,9e36,1e37,2e37,3e37,4e37,5e37,6e37,7e37,8e37,9e37,1e38],"labelExpr":"datum.value==1e33?'10³³':datum.value==1e35?'10³⁵':datum.value==1e37?'10³⁷':''","tickSize":{"condition":{"test":"abs(log(datum.value)/LN10-round(log(datum.value)/LN10))<0.01","value":-4},"value":-2},"labelPadding":7,"titlePadding":6,"titleAngle":270,"titleBaseline":"top"}}}}
   ],
   "resolve":{"scale":{"x":"independent","y":"independent"}}}
 ],
 "spacing": 151, "bounds": "flush",
 "resolve": {"scale": {"color": "independent"}, "legend": {"color": "independent"}}},

 {"hconcat": [
  {"width":58,"height":218,"data":{"values":[{"a":1}]},"mark":{"type":"point","opacity":0},"encoding":{}},

  {"width":293,"height":218,
   "layer":[
    {"encoding":{"x":{"field":"E","type":"quantitative","scale":{"type":"log","domain":[4.136e-19,4.136e6],"nice":false},"axis":{"orient":"bottom","title":"Energy (GeV)","values":[1e-18,1e-17,1e-16,1e-15,1e-14,1e-13,1e-12,1e-11,1e-10,1e-9,1e-8,1e-7,1e-6,1e-5,1e-4,1e-3,1e-2,1e-1,1,10,100,1000,1e4,1e5,1e6],"labelExpr":"datum.value==1e-15?'10⁻¹⁵':datum.value==1e-10?'10⁻¹⁰':datum.value==1e-5?'10⁻⁵':datum.value==1?'10⁰':datum.value==1e5?'10⁵':''","tickSize":{"condition":{"test":"abs(log(datum.value)/LN10/5-round(log(datum.value)/LN10/5))<0.002","value":-4},"value":-2.5},"labelPadding":6,"titlePadding":3}}},
     "layer":[
      {"data":{"name":"band"},"transform":[{"filter":"datum.p==4"}],"mark":{"type":"area","color":"#d3d3d3","clip":true},
       "encoding":{"y":{"field":"hi","type":"quantitative","scale":{"type":"log","domain":[1e-15,1e-9],"nice":false},"axis":{"orient":"left","title":"Flux (erg s⁻¹ cm⁻²)","values":[1e-15,2e-15,3e-15,4e-15,5e-15,6e-15,7e-15,8e-15,9e-15,1e-14,2e-14,3e-14,4e-14,5e-14,6e-14,7e-14,8e-14,9e-14,1e-13,2e-13,3e-13,4e-13,5e-13,6e-13,7e-13,8e-13,9e-13,1e-12,2e-12,3e-12,4e-12,5e-12,6e-12,7e-12,8e-12,9e-12,1e-11,2e-11,3e-11,4e-11,5e-11,6e-11,7e-11,8e-11,9e-11,1e-10,2e-10,3e-10,4e-10,5e-10,6e-10,7e-10,8e-10,9e-10,1e-9],"labelExpr":"datum.value==1e-10?'10⁻¹⁰':datum.value==1e-12?'10⁻¹²':datum.value==1e-14?'10⁻¹⁴':''","tickSize":{"condition":{"test":"abs(log(datum.value)/LN10-round(log(datum.value)/LN10))<0.01","value":-4},"value":-2},"labelPadding":7,"titlePadding":6}},"y2":{"field":"lo"},"detail":{"field":"part"}}},
      {"data":{"name":"pts"},"transform":[{"filter":"datum.p==4"}],"mark":{"type":"rule","strokeWidth":1.3,"clip":true},
       "encoding":{"y":{"field":"lo","type":"quantitative","scale":{"type":"log","domain":[1e-15,1e-9],"nice":false}},"y2":{"field":"hi"},"color":{"datum":"Data","type":"nominal","scale":{"domain":["Data"],"range":["#3a7dbf"]},"legend":{"orient":"top-left","title":null,"offset":4,"padding":2,"labelFontSize":6.5,"labelFont":"DejaVu Sans","labelColor":"black","symbolType":"M-1,0H1M0,-1V1M-1,-0.5V0.5M1,-0.5V0.5M-0.5,-1H0.5M-0.5,1H0.5","symbolSize":40,"symbolStrokeWidth":1,"symbolStrokeColor":"#3a7dbf","symbolFillColor":"transparent","labelOffset":7}}}},
      {"data":{"name":"pts"},"transform":[{"filter":"datum.p==4"}],"mark":{"type":"tick","orient":"horizontal","size":5,"thickness":1.2,"color":"#3a7dbf","clip":true},
       "encoding":{"y":{"field":"lo","type":"quantitative","scale":{"type":"log","domain":[1e-15,1e-9],"nice":false}}}},
      {"data":{"name":"pts"},"transform":[{"filter":"datum.p==4"}],"mark":{"type":"tick","orient":"horizontal","size":5,"thickness":1.2,"color":"#3a7dbf","clip":true},
       "encoding":{"y":{"field":"hi","type":"quantitative","scale":{"type":"log","domain":[1e-15,1e-9],"nice":false}}}},
      {"data":{"name":"pts"},"transform":[{"filter":"datum.p==4"}],"mark":{"type":"point","filled":true,"size":7,"opacity":1,"color":"#3a7dbf","clip":true},
       "encoding":{"y":{"field":"F","type":"quantitative","scale":{"type":"log","domain":[1e-15,1e-9],"nice":false}}}},
      {"data":{"name":"ul"},"transform":[{"filter":"datum.p==4"}],"mark":{"type":"rule","strokeWidth":1.3,"color":"#3a7dbf","clip":true},
       "encoding":{"y":{"field":"F","type":"quantitative","scale":{"type":"log","domain":[1e-15,1e-9],"nice":false}},"y2":{"field":"end"}}},
      {"data":{"name":"ul"},"transform":[{"filter":"datum.p==4"}],"mark":{"type":"point","shape":"triangle-down","filled":true,"size":16,"opacity":1,"color":"#3a7dbf","clip":true},
       "encoding":{"y":{"field":"end","type":"quantitative","scale":{"type":"log","domain":[1e-15,1e-9],"nice":false}}}},
      {"data":{"name":"ann"},"transform":[{"filter":"datum.p==4"}],"mark":{"type":"text","align":"left","baseline":"middle","fontSize":13,"font":"DejaVu Sans","color":"black"},
       "encoding":{"y":{"field":"F","type":"quantitative","scale":{"type":"log","domain":[1e-15,1e-9],"nice":false}},"text":{"field":"t"}}}
     ]},
    {"data":{"name":"sec"},"transform":[{"filter":"datum.p==4"}],"mark":{"type":"point","opacity":0},
     "encoding":{"x":{"field":"nu","type":"quantitative","scale":{"type":"log","domain":[1e5,1e30],"nice":false},"axis":{"orient":"top","title":"Frequency (Hz)","values":[1e5,1e6,1e7,1e8,1e9,1e10,1e11,1e12,1e13,1e14,1e15,1e16,1e17,1e18,1e19,1e20,1e21,1e22,1e23,1e24,1e25,1e26,1e27,1e28,1e29,1e30],"labelExpr":"datum.value==1e5?'10⁵':datum.value==1e10?'10¹⁰':datum.value==1e15?'10¹⁵':datum.value==1e20?'10²⁰':datum.value==1e25?'10²⁵':datum.value==1e30?'10³⁰':''","tickSize":{"condition":{"test":"abs(log(datum.value)/LN10/5-round(log(datum.value)/LN10/5))<0.002","value":-4},"value":-2.5},"labelPadding":7,"titlePadding":1}},
                 "y":{"field":"L","type":"quantitative","scale":{"type":"log","domain":[4.025e30,4.025e36],"nice":false},"axis":{"orient":"right","title":"Luminosity (erg s⁻¹, d = 5.8 kpc)","values":[5e30,6e30,7e30,8e30,9e30,1e31,2e31,3e31,4e31,5e31,6e31,7e31,8e31,9e31,1e32,2e32,3e32,4e32,5e32,6e32,7e32,8e32,9e32,1e33,2e33,3e33,4e33,5e33,6e33,7e33,8e33,9e33,1e34,2e34,3e34,4e34,5e34,6e34,7e34,8e34,9e34,1e35,2e35,3e35,4e35,5e35,6e35,7e35,8e35,9e35,1e36,2e36,3e36,4e36],"labelExpr":"datum.value==1e31?'10³¹':datum.value==1e33?'10³³':datum.value==1e35?'10³⁵':''","tickSize":{"condition":{"test":"abs(log(datum.value)/LN10-round(log(datum.value)/LN10))<0.01","value":-4},"value":-2},"labelPadding":7,"titlePadding":6,"titleAngle":270,"titleBaseline":"top"}}}}
   ],
   "resolve":{"scale":{"x":"independent","y":"independent"}}},

  {"width":293,"height":218,
   "layer":[
    {"encoding":{"x":{"field":"E","type":"quantitative","scale":{"type":"log","domain":[4.136e-19,4.136e6],"nice":false},"axis":{"orient":"bottom","title":"Energy (GeV)","values":[1e-18,1e-17,1e-16,1e-15,1e-14,1e-13,1e-12,1e-11,1e-10,1e-9,1e-8,1e-7,1e-6,1e-5,1e-4,1e-3,1e-2,1e-1,1,10,100,1000,1e4,1e5,1e6],"labelExpr":"datum.value==1e-15?'10⁻¹⁵':datum.value==1e-10?'10⁻¹⁰':datum.value==1e-5?'10⁻⁵':datum.value==1?'10⁰':datum.value==1e5?'10⁵':''","tickSize":{"condition":{"test":"abs(log(datum.value)/LN10/5-round(log(datum.value)/LN10/5))<0.002","value":-4},"value":-2.5},"labelPadding":6,"titlePadding":3}}},
     "layer":[
      {"data":{"name":"band"},"transform":[{"filter":"datum.p==5"}],"mark":{"type":"area","color":"#d3d3d3","clip":true},
       "encoding":{"y":{"field":"hi","type":"quantitative","scale":{"type":"log","domain":[1e-15,1e-8],"nice":false},"axis":{"orient":"left","title":"Flux (erg s⁻¹ cm⁻²)","values":[1e-15,2e-15,3e-15,4e-15,5e-15,6e-15,7e-15,8e-15,9e-15,1e-14,2e-14,3e-14,4e-14,5e-14,6e-14,7e-14,8e-14,9e-14,1e-13,2e-13,3e-13,4e-13,5e-13,6e-13,7e-13,8e-13,9e-13,1e-12,2e-12,3e-12,4e-12,5e-12,6e-12,7e-12,8e-12,9e-12,1e-11,2e-11,3e-11,4e-11,5e-11,6e-11,7e-11,8e-11,9e-11,1e-10,2e-10,3e-10,4e-10,5e-10,6e-10,7e-10,8e-10,9e-10,1e-9,2e-9,3e-9,4e-9,5e-9,6e-9,7e-9,8e-9,9e-9,1e-8],"labelExpr":"datum.value==1e-10?'10⁻¹⁰':datum.value==1e-12?'10⁻¹²':datum.value==1e-14?'10⁻¹⁴':''","tickSize":{"condition":{"test":"abs(log(datum.value)/LN10-round(log(datum.value)/LN10))<0.01","value":-4},"value":-2},"labelPadding":7,"titlePadding":6}},"y2":{"field":"lo"},"detail":{"field":"part"}}},
      {"data":{"name":"pts"},"transform":[{"filter":"datum.p==5"}],"mark":{"type":"rule","strokeWidth":1.3,"clip":true},
       "encoding":{"y":{"field":"lo","type":"quantitative","scale":{"type":"log","domain":[1e-15,1e-8],"nice":false}},"y2":{"field":"hi"},"color":{"datum":"Data","type":"nominal","scale":{"domain":["Data"],"range":["#3a7dbf"]},"legend":{"orient":"top-left","title":null,"offset":4,"padding":2,"labelFontSize":6.5,"labelFont":"DejaVu Sans","labelColor":"black","symbolType":"M-1,0H1M0,-1V1M-1,-0.5V0.5M1,-0.5V0.5M-0.5,-1H0.5M-0.5,1H0.5","symbolSize":40,"symbolStrokeWidth":1,"symbolStrokeColor":"#3a7dbf","symbolFillColor":"transparent","labelOffset":7}}}},
      {"data":{"name":"pts"},"transform":[{"filter":"datum.p==5"}],"mark":{"type":"tick","orient":"horizontal","size":5,"thickness":1.2,"color":"#3a7dbf","clip":true},
       "encoding":{"y":{"field":"lo","type":"quantitative","scale":{"type":"log","domain":[1e-15,1e-8],"nice":false}}}},
      {"data":{"name":"pts"},"transform":[{"filter":"datum.p==5"}],"mark":{"type":"tick","orient":"horizontal","size":5,"thickness":1.2,"color":"#3a7dbf","clip":true},
       "encoding":{"y":{"field":"hi","type":"quantitative","scale":{"type":"log","domain":[1e-15,1e-8],"nice":false}}}},
      {"data":{"name":"pts"},"transform":[{"filter":"datum.p==5"}],"mark":{"type":"point","filled":true,"size":7,"opacity":1,"color":"#3a7dbf","clip":true},
       "encoding":{"y":{"field":"F","type":"quantitative","scale":{"type":"log","domain":[1e-15,1e-8],"nice":false}}}},
      {"data":{"name":"ul"},"transform":[{"filter":"datum.p==5"}],"mark":{"type":"rule","strokeWidth":1.3,"color":"#3a7dbf","clip":true},
       "encoding":{"y":{"field":"F","type":"quantitative","scale":{"type":"log","domain":[1e-15,1e-8],"nice":false}},"y2":{"field":"end"}}},
      {"data":{"name":"ul"},"transform":[{"filter":"datum.p==5"}],"mark":{"type":"point","shape":"triangle-down","filled":true,"size":16,"opacity":1,"color":"#3a7dbf","clip":true},
       "encoding":{"y":{"field":"end","type":"quantitative","scale":{"type":"log","domain":[1e-15,1e-8],"nice":false}}}},
      {"data":{"name":"ann"},"transform":[{"filter":"datum.p==5"}],"mark":{"type":"text","align":"left","baseline":"middle","fontSize":13,"font":"DejaVu Sans","color":"black"},
       "encoding":{"y":{"field":"F","type":"quantitative","scale":{"type":"log","domain":[1e-15,1e-8],"nice":false}},"text":{"field":"t"}}}
     ]},
    {"data":{"name":"sec"},"transform":[{"filter":"datum.p==5"}],"mark":{"type":"point","opacity":0},
     "encoding":{"x":{"field":"nu","type":"quantitative","scale":{"type":"log","domain":[1e5,1e30],"nice":false},"axis":{"orient":"top","title":"Frequency (Hz)","values":[1e5,1e6,1e7,1e8,1e9,1e10,1e11,1e12,1e13,1e14,1e15,1e16,1e17,1e18,1e19,1e20,1e21,1e22,1e23,1e24,1e25,1e26,1e27,1e28,1e29,1e30],"labelExpr":"datum.value==1e5?'10⁵':datum.value==1e10?'10¹⁰':datum.value==1e15?'10¹⁵':datum.value==1e20?'10²⁰':datum.value==1e25?'10²⁵':datum.value==1e30?'10³⁰':''","tickSize":{"condition":{"test":"abs(log(datum.value)/LN10/5-round(log(datum.value)/LN10/5))<0.002","value":-4},"value":-2.5},"labelPadding":7,"titlePadding":1}},
                 "y":{"field":"L","type":"quantitative","scale":{"type":"log","domain":[9.692e30,9.692e37],"nice":false},"axis":{"orient":"right","title":"Luminosity (erg s⁻¹, d = 9.0 kpc)","values":[1e31,2e31,3e31,4e31,5e31,6e31,7e31,8e31,9e31,1e32,2e32,3e32,4e32,5e32,6e32,7e32,8e32,9e32,1e33,2e33,3e33,4e33,5e33,6e33,7e33,8e33,9e33,1e34,2e34,3e34,4e34,5e34,6e34,7e34,8e34,9e34,1e35,2e35,3e35,4e35,5e35,6e35,7e35,8e35,9e35,1e36,2e36,3e36,4e36,5e36,6e36,7e36,8e36,9e36,1e37,2e37,3e37,4e37,5e37,6e37,7e37,8e37,9e37],"labelExpr":"datum.value==1e32?'10³²':datum.value==1e34?'10³⁴':datum.value==1e36?'10³⁶':''","tickSize":{"condition":{"test":"abs(log(datum.value)/LN10-round(log(datum.value)/LN10))<0.01","value":-4},"value":-2},"labelPadding":7,"titlePadding":6,"titleAngle":270,"titleBaseline":"top"}}}}
   ],
   "resolve":{"scale":{"x":"independent","y":"independent"}}}
 ],
 "spacing": 151, "bounds": "flush",
 "resolve": {"scale": {"color": "independent"}, "legend": {"color": "independent"}}}
],
"spacing": 306, "bounds": "flush",
"resolve": {"scale": {"color": "independent"}, "legend": {"color": "independent"}}
}
